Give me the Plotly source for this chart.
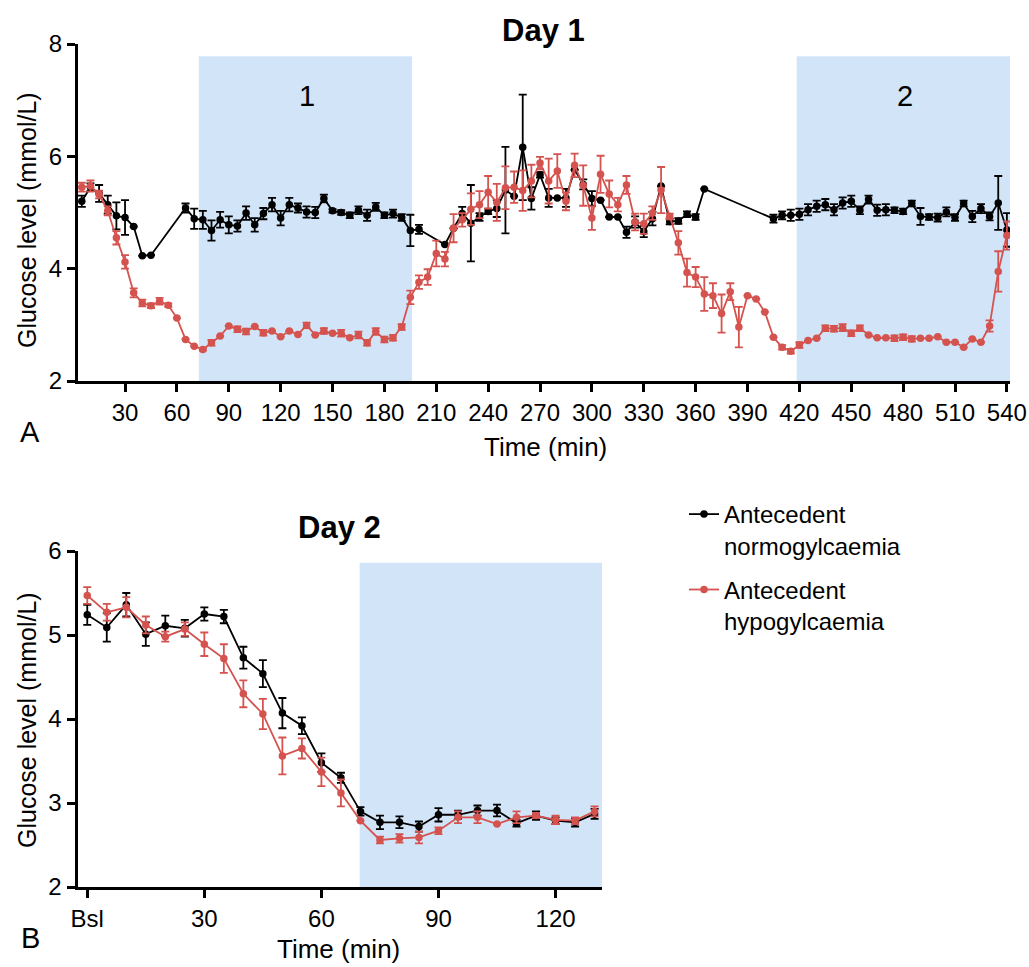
import plotly.graph_objects as go

# ---------------- Data ----------------
day1_time = list(range(5, 545, 5))

day1_norm = [5.20, 5.45, 5.34, 5.14, 4.94, 4.91, 4.75, 4.23, 4.24, None, None, None,
             5.08, 4.89, 4.87, 4.68, 4.87, 4.78, 4.76, 4.99, 4.78, 4.98, 5.14, 4.90,
             5.14, 5.08, 5.01, 5.00, 5.25, 5.03, 5.00, 4.95, 5.04, 4.95, 5.10, 4.95,
             4.98, 4.91, 4.68, 4.70, None, None, 4.43, 4.72, 4.98, 4.81, 4.92, 5.02,
             5.07, 5.40, 5.29, 6.16, 5.25, 5.67, 5.26, 5.26, 5.26, 5.76, 5.50, 5.25,
             5.22, 4.92, 4.92, 4.65, 4.83, 4.66, 4.89, 5.47, 4.84, 4.85, 4.97, 4.92,
             5.42, None, None, None, None, None, None, None, 4.89, 4.95, 4.95, 4.97,
             5.05, 5.11, 5.14, 5.05, 5.17, 5.20, 5.04, 5.23, 5.04, 5.05, 5.04, 5.02,
             5.16, 4.93, 4.92, 4.91, 5.01, 4.91, 5.16, 4.93, 5.07, 4.93, 5.17, 4.69]

day1_norm_sem = [.10, .07, .15, .16, .24, .31, 0, 0, 0, 0, 0, 0,
                 .08, .18, .16, .18, .14, .15, .10, .12, .12, .10, .12, .13,
                 .12, .08, .10, .10, .07, .03, .04, .05, .07, .10, .07, .05,
                 .07, .06, .28, .08, 0, 0, 0, 0, .12, .68, .07, .05,
                 .15, .77, 0, .94, .20, .05, .16, 0, .16, 0, .09, .13,
                 0, 0, 0, .10, .10, .10, .12, 0, .05, .05, .05, .05,
                 0, 0, 0, 0, 0, 0, 0, 0, .07, .07, .10, .10,
                 .10, .10, .10, .10, .10, .10, .07, .07, .10, .10, .05, .05,
                 .05, .15, .05, .07, .08, .06, .05, .10, .08, .07, .48, .30]

day1_hypo = [5.45, 5.47, 5.32, 5.03, 4.55, 4.12, 3.57, 3.39, 3.34, 3.42, 3.35, 3.12,
             2.74, 2.62, 2.56, 2.68, 2.80, 2.98, 2.92, 2.88, 2.97, 2.86, 2.89, 2.79,
             2.89, 2.83, 2.99, 2.82, 2.89, 2.85, 2.85, 2.77, 2.82, 2.68, 2.88, 2.74,
             2.77, 2.96, 3.49, 3.76, 3.85, 4.27, 4.17, 4.72, 4.87, 5.06, 5.14, 5.36,
             5.18, 5.44, 5.45, 5.39, 5.56, 5.88, 5.56, 5.74, 5.20, 5.84, 5.48, 4.90,
             5.68, 5.33, 5.14, 5.49, 4.83, 4.80, 4.99, 5.40, 4.93, 4.46, 3.93, 3.85,
             3.55, 3.52, 3.20, 3.59, 2.96, 3.52, 3.46, 3.23, 2.78, 2.60, 2.53, 2.64,
             2.72, 2.76, 2.94, 2.93, 2.95, 2.85, 2.94, 2.82, 2.77, 2.77, 2.76, 2.78,
             2.75, 2.76, 2.76, 2.79, 2.69, 2.69, 2.60, 2.75, 2.69, 2.98, 3.95, 4.59]

day1_hypo_sem = [.08, .10, .07, .08, .12, .12, .08, .06, .04, .06, .03, 0,
                 0, 0, .02, .05, 0, 0, .05, .05, 0, .05, 0, 0,
                 0, 0, .05, 0, .05, 0, .06, 0, .06, .05, .06, .05,
                 .05, .05, .12, .12, .14, .23, .13, .25, .12, .28, .24, .29,
                 .33, .38, .28, .36, .29, .11, .40, .30, .16, .21, .36, .21,
                 .33, .24, .12, .16, .15, .18, .12, .41, .05, .21, .25, .18,
                 .30, .22, .34, .15, .36, 0, 0, 0, 0, .04, .04, .05,
                 0, 0, .05, .05, .06, .05, .05, 0, 0, 0, .05, .05,
                 .05, 0, 0, 0, 0, 0, 0, 0, 0, .10, .36, .25]

day2_time = list(range(0, 135, 5))
day2_norm = [5.24, 5.09, 5.36, 5.01, 5.11, 5.08, 5.25, 5.22, 4.73, 4.54, 4.07, 3.92, 3.48, 3.30,
             2.90, 2.77, 2.77, 2.72, 2.86, 2.86, 2.91, 2.91, 2.76, 2.85, 2.79, 2.77, 2.87]
day2_norm_sem = [.12, .17, .14, .14, .12, .10, .08, .08, .13, .16, .18, .10, .11, .06,
                 .05, .08, .07, .06, .08, .05, .06, .07, .04, .05, .04, .05, .06]
day2_hypo = [5.47, 5.27, 5.33, 5.12, 4.98, 5.07, 4.89, 4.72, 4.30, 4.06, 3.56, 3.65, 3.37, 3.12,
             2.79, 2.56, 2.58, 2.59, 2.67, 2.83, 2.83, 2.75, 2.83, 2.85, 2.80, 2.79, 2.90]
day2_hypo_sem = [.10, .10, .12, .10, .06, .08, .14, .17, .16, .18, .22, .12, .17, .16,
                 0, .04, .05, .07, .04, .07, .07, 0, .07, .03, .05, .04, .06]

series_names = ["Antecedent<br>normogylcaemia", "Antecedent<br>hypogylcaemia"]

day1_ticks = list(range(30, 570, 30))
day1_yticks = [2, 4, 6, 8]
day2_ticks = [0, 30, 60, 90, 120]
day2_ticklabels = ["Bsl", "30", "60", "90", "120"]
day2_yticks = [2, 3, 4, 5, 6]

day1_windows = [(72.7, 196.0, "1"), (418.4, 541.8, "2")]
day2_window = (69.8, 131.9)

# ---------------- Style ----------------
BLACK = "#000000"
RED = "#D5534F"
SHADE = "rgb(210,228,248)"
FONT = "Liberation Sans, Arial, Helvetica, sans-serif"

fig = go.Figure()


def add_series(x, y, err, color, name, group, xa, ya, show):
    fig.add_trace(go.Scatter(
        x=x, y=y, mode="lines+markers", name=name, legendgroup=group,
        line=dict(color=color, width=1.8),
        marker=dict(color=color, size=7.5),
        error_y=dict(type="data", array=err, visible=True, color=color,
                     thickness=1.8, width=4),
        connectgaps=True, showlegend=show, xaxis=xa, yaxis=ya,
    ))


add_series(day1_time, day1_norm, day1_norm_sem, BLACK, series_names[0], "norm", "x", "y", True)
add_series(day1_time, day1_hypo, day1_hypo_sem, RED, series_names[1], "hypo", "x", "y", True)
add_series(day2_time, day2_norm, day2_norm_sem, BLACK, series_names[0], "norm", "x2", "y2", False)
add_series(day2_time, day2_hypo, day2_hypo_sem, RED, series_names[1], "hypo", "x2", "y2", False)

shapes = []
annotations = []
for x0, x1, lab in day1_windows:
    shapes.append(dict(type="rect", xref="x", yref="y", x0=x0, x1=x1, y0=2, y1=7.78,
                       fillcolor=SHADE, line=dict(width=0), layer="below"))
    annotations.append(dict(xref="x", yref="y", x=(x0 + x1) / 2 + 1, y=7.08, text=lab,
                            showarrow=False, font=dict(size=29, color="black", family=FONT)))
shapes.append(dict(type="rect", xref="x2", yref="y2", x0=day2_window[0], x1=day2_window[1],
                   y0=2, y1=5.86, fillcolor=SHADE, line=dict(width=0), layer="below"))

W, H = 1029, 967


def px(xp, yp):
    return xp / W, 1 - yp / H


def ann(xp, yp, text, size, bold=False, angle=0):
    x, y = px(xp, yp)
    annotations.append(dict(xref="paper", yref="paper", x=x, y=y, text=f"<b>{text}</b>" if bold else text,
                            showarrow=False, textangle=angle, xanchor="center", yanchor="middle",
                            font=dict(size=size, color="black", family=FONT)))


ann(543, 30, "Day 1", 31, bold=True)
ann(339, 527, "Day 2", 31, bold=True)
ann(27, 220, "Glucose level (mmol/L)", 25, angle=-90)
ann(27, 720, "Glucose level (mmol/L)", 25, angle=-90)
ann(545, 447, "Time (min)", 26)
ann(338, 949, "Time (min)", 26)
ann(30, 432, "A", 29)
ann(30, 938, "B", 29)

axis_common = dict(showline=True, linewidth=3, linecolor="black", ticks="outside",
                   ticklen=8, tickwidth=3, tickcolor="black", showgrid=False, zeroline=False,
                   tickfont=dict(size=24, color="black", family=FONT), automargin=False)

fig.update_layout(
    width=W, height=H,
    margin=dict(l=0, r=0, t=0, b=0),
    paper_bgcolor="white", plot_bgcolor="white",
    font=dict(family=FONT, color="black"),
    xaxis=dict(domain=[78 / W, 1010 / W], range=[2.8, 541.8], tickvals=day1_ticks,
               anchor="y", **axis_common),
    yaxis=dict(domain=[1 - 381 / H, 1 - 44 / H], range=[2, 8], tickvals=day1_yticks,
               anchor="x", **axis_common),
    xaxis2=dict(domain=[77.5 / W, 602 / W], range=[-2.5, 131.9], tickvals=day2_ticks,
                ticktext=day2_ticklabels, anchor="y2", **axis_common),
    yaxis2=dict(domain=[1 - 887 / H, 1 - 551 / H], range=[2, 6], tickvals=day2_yticks,
                anchor="x2", **axis_common),
    shapes=shapes,
    annotations=annotations,
    legend=dict(x=684 / W, y=1 - 492 / H, xanchor="left", yanchor="top",
                font=dict(size=24, color="black", family=FONT), valign="top",
                tracegroupgap=10, bgcolor="rgba(0,0,0,0)", itemwidth=30),
)

fig.write_html("out.html", config={"displayModeBar": False},
               post_script="document.body.style.margin='0px';document.body.style.padding='0px';document.body.style.overflow='hidden';")
